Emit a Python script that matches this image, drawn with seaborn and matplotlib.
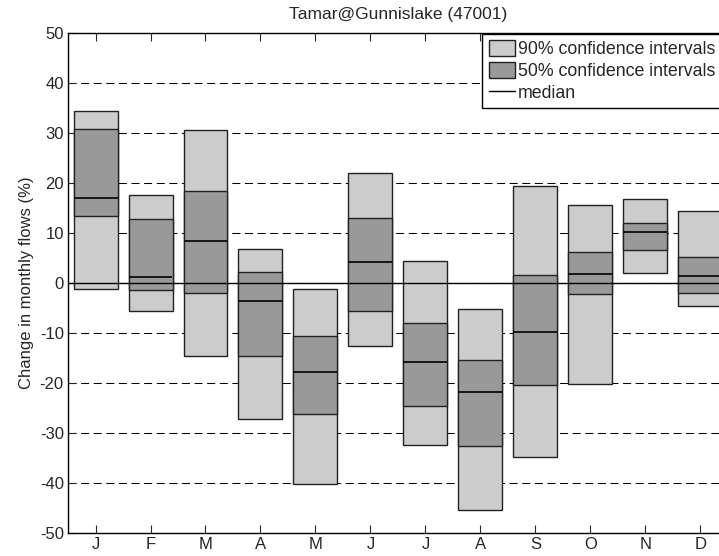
import numpy as np
import pandas as pd
import seaborn as sns
import matplotlib
matplotlib.use("Agg")
import matplotlib.pyplot as plt
from matplotlib.patches import Patch
from matplotlib.lines import Line2D

months = ["J", "F", "M", "A", "M", "J", "J", "A", "S", "O", "N", "D"]
ci90_low = [-1.1, -5.5, -14.5, -27.1, -40.1, -12.5, -32.3, -45.3, -34.7, -20.1, 2.1, -4.6]
ci90_high = [34.5, 17.7, 30.7, 6.7, -1.1, 22.1, 4.4, -5.2, 19.5, 15.6, 16.9, 14.5]
ci50_low = [13.5, -1.3, -2.0, -14.6, -26.1, -5.5, -24.5, -32.5, -20.4, -2.1, 6.7, -1.9]
ci50_high = [30.9, 12.8, 18.5, 2.3, -10.6, 13.1, -8.0, -15.3, 1.7, 6.2, 12.1, 5.3]
median = [17.1, 1.2, 8.5, -3.6, -17.7, 4.2, -15.8, -21.7, -9.7, 1.9, 10.3, 1.5]
yticks = list(range(-50, 51, 10))
title = "Tamar@Gunnislake (47001)"
ylabel = "Change in monthly flows (%)"

sns.set_style("white")
plt.rcParams["font.family"] = ["Liberation Sans", "DejaVu Sans"]

light = "#cccccc"
dark = "#999999"
edge = "#222222"

idx = [f"m{i}" for i in range(len(months))]
df = pd.DataFrame({
    "month": idx,
    "h90": np.array(ci90_high) - np.array(ci90_low),
    "b90": ci90_low,
    "h50": np.array(ci50_high) - np.array(ci50_low),
    "b50": ci50_low,
    "med": median,
})

fig = plt.figure(figsize=(7.19, 5.56), dpi=100)
ax = fig.add_axes([68 / 719, 1 - 533 / 556, 660 / 719, 500 / 556])

# grid lines behind
for v in yticks[1:-1]:
    ax.axhline(v, color="black", lw=0.75, linestyle=(0, (7.7, 4.4)), zorder=0)

sns.barplot(data=df, x="month", y="h90", bottom=df["b90"].values, order=idx,
            color=light, saturation=1, width=0.8, edgecolor=edge, linewidth=1.0,
            ax=ax, zorder=2)
sns.barplot(data=df, x="month", y="h50", bottom=df["b50"].values, order=idx,
            color=dark, saturation=1, width=0.8, edgecolor=edge, linewidth=1.0,
            ax=ax, zorder=3)
xs = np.arange(len(months))
ax.hlines(df["med"], xs - 0.4, xs + 0.4, color="black", lw=1.2, zorder=4)
ax.axhline(0, color="black", lw=1.0, zorder=5)

ax.set_xlim(-0.5, 11.5)
ax.set_ylim(-50, 50)
ax.set_yticks(yticks)
ax.set_yticklabels([str(v) for v in yticks])
ax.set_xticks(xs)
ax.set_xticklabels(months)
ax.set_xlabel("")
ax.set_ylabel(ylabel, fontsize=12, labelpad=4)
ax.set_title(title, fontsize=12.5, pad=10)
ax.tick_params(axis="both", direction="in", length=6, width=0.8, labelsize=12,
               top=True, right=True, bottom=True, left=True, pad=3)
for s in ax.spines.values():
    s.set_visible(True)
    s.set_color("black")
    s.set_linewidth(1.0)

handles = [Patch(facecolor=light, edgecolor=edge, linewidth=1.0),
           Patch(facecolor=dark, edgecolor=edge, linewidth=1.0),
           Line2D([0], [0], color="black", lw=1.0)]
labels = ["90% confidence intervals", "50% confidence intervals", "median"]
leg = ax.legend(handles, labels, loc="upper left",
                bbox_to_anchor=(482 / 719, 1 - 33.5 / 556), bbox_transform=fig.transFigure,
                fontsize=12.8, frameon=True, fancybox=False, framealpha=1,
                edgecolor="black", borderpad=0.38, handlelength=1.47,
                handleheight=0.97, handletextpad=0.15, labelspacing=0.22,
                borderaxespad=0)
leg.get_frame().set_linewidth(1.0)
leg.set_zorder(10)

fig.savefig("out.png", dpi=100)
